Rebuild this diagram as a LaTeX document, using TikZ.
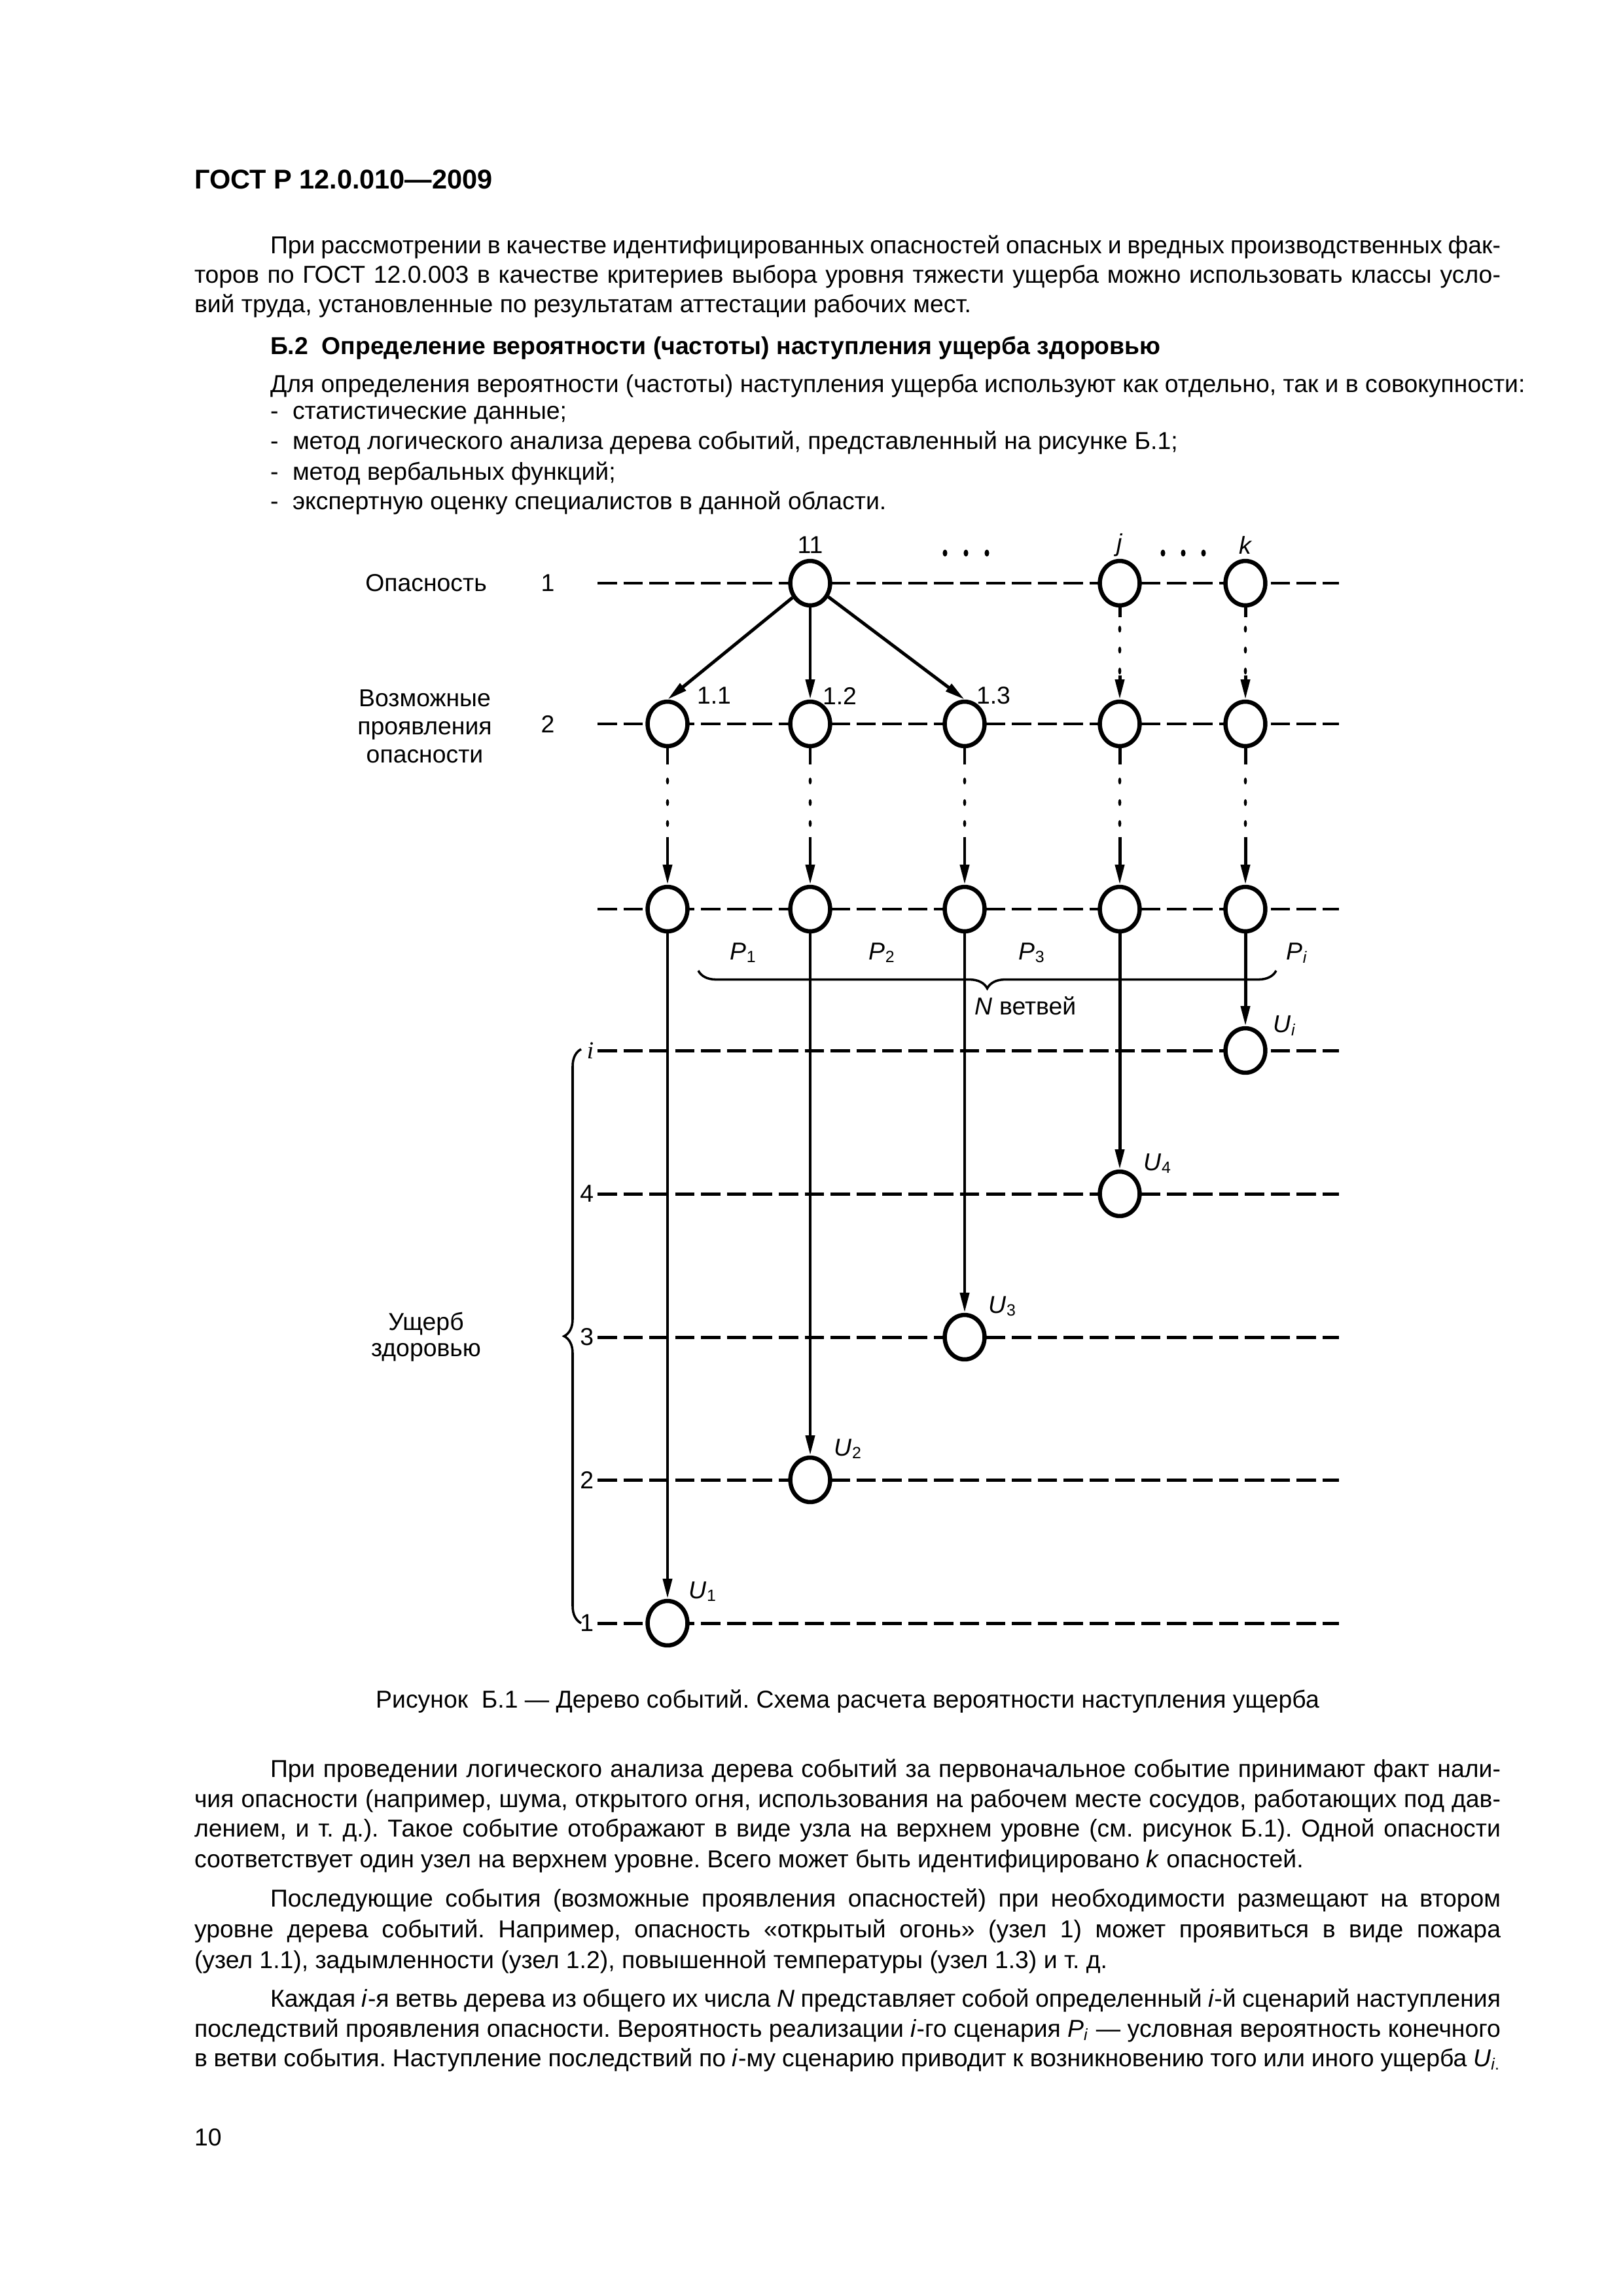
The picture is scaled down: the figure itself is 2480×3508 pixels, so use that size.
\documentclass[tikz,border=0pt]{standalone}
\usepackage{fontspec}
\setmainfont{Liberation Sans}
\newfontfamily\serifit{Liberation Serif}
\usetikzlibrary{arrows.meta,decorations.pathreplacing,calc,backgrounds,shapes.geometric}
\newdimen\pxu \pxu=0.0846667mm
\newcommand\bodyf{\fontsize{9}{11}\selectfont\frenchspacing}
\newcommand\diagf{\fontsize{9}{11}\selectfont}
\newcommand\jl[2]{\makebox[#1\pxu][s]{#2}}
\tikzset{
 txt/.style={inner sep=0pt, outer sep=0pt, anchor=base west, font=\bodyf},
 lab/.style={inner sep=0pt, font=\diagf},
 ev/.style={ellipse, draw, fill=white, line width=0.55mm, minimum width=5.15mm, minimum height=5.75mm, inner sep=0pt},
 lvl/.style={line width=0.42mm, dash pattern=on 2.5mm off 0.85mm},
 conn/.style={line width=0.42mm},
 arr/.style={line width=0.42mm, -{Triangle[length=2.6mm,width=1.15mm]}},
 brc/.style={line width=0.3mm, decorate},
}
\begin{document}
\begin{tikzpicture}[x=0.0846667mm,y=-0.0846667mm]
\useasboundingbox (0,0) rectangle (2480,3508);

% ---------- text above ----------
\node[txt,font=\fontsize{10}{12}\selectfont\bfseries] (hdr) at (297,288) {ГОСТ Р 12.0.010—2009};
\node[txt] (a1) at (413,387) {\jl{1880}{При рассмотрении в качестве идентифицированных опасностей опасных и вредных производственных фак-}};
\node[txt] (a2) at (297,432) {\jl{1996}{торов по ГОСТ 12.0.003 в качестве критериев выбора уровня тяжести ущерба можно использовать классы усло-}};
\node[txt] (a3) at (297,477) {вий труда, установленные по результатам аттестации рабочих мест.};
\node[txt,font=\bodyf\bfseries] (sec) at (413,541) {Б.2\ \ Определение вероятности (частоты) наступления ущерба здоровью};
\node[txt] (b0) at (413,599) {Для определения вероятности (частоты) наступления ущерба используют как отдельно, так и в совокупности:};
\node[txt] (b1d) at (413,640) {-};
\node[txt] (b1) at (447,640) {статистические данные;};
\node[txt] (b2d) at (413,686) {-};
\node[txt] (b2) at (447,686) {метод логического анализа дерева событий, представленный на рисунке Б.1;};
\node[txt] (b3d) at (413,733) {-};
\node[txt] (b3) at (447,733) {метод вербальных функций;};
\node[txt] (b4d) at (413,778) {-};
\node[txt] (b4) at (447,778) {экспертную оценку специалистов в данной области.};

% ---------- diagram: level lines ----------
\foreach \k/\y in {1/891,2/1106,3/1389,4/1605,5/1824,6/2043,7/2261,8/2480}{
  \coordinate (ls\k) at (913,\y);
  \coordinate (le\k) at (2046,\y);
}
% ---------- event nodes ----------
\node[ev] (h1) at (1238,891) {};
\node[ev] (hj) at (1711,891) {};
\node[ev] (hk) at (1903,891) {};
\foreach \i/\x in {1/1020,2/1238,3/1474,4/1711,5/1903}{
  \node[ev] (m\i) at (\x,1106) {};
  \node[ev] (r\i) at (\x,1389) {};
}
\node[ev] (ui) at (1903,1605) {};
\node[ev] (u4) at (1711,1824) {};
\node[ev] (u3) at (1474,2043) {};
\node[ev] (u2) at (1238,2261) {};
\node[ev] (u1) at (1020,2480) {};

\begin{scope}[on background layer]
\foreach \k in {1,...,8}{ \draw[lvl] (ls\k) -- (le\k); }
\end{scope}

% ---------- connectors ----------
\draw[arr] (h1) -- (m1.north);
\draw[arr] (h1) -- (m2.north);
\draw[arr] (h1) -- (m3.north);
\foreach \a/\b in {hj/m4,hk/m5}{
  \draw[conn] (\a.south) -- ++(0,15);
  \foreach \d in {33,65,97}{ \fill ($(\a.south)+(0,\d)$) ellipse [x radius=0.2mm, y radius=0.45mm]; }
  \draw[arr] ($(\b.north)+(0,-37)$) -- (\b.north);
}
\foreach \i in {1,...,5}{
  \draw[conn] (m\i.south) -- ++(0,25);
  \foreach \d in {50,83,115}{ \fill ($(m\i.south)+(0,\d)$) ellipse [x radius=0.2mm, y radius=0.45mm]; }
  \draw[arr] ($(r\i.north)+(0,-73)$) -- (r\i.north);
}
\draw[arr] (r1) -- (u1);
\draw[arr] (r2) -- (u2);
\draw[arr] (r3) -- (u3);
\draw[arr] (r4) -- (u4);
\draw[arr] (r5) -- (ui);

% ---------- top labels ----------
\node[lab] (t11) at (1238,833) {11};
\foreach \x in {1444,1476,1508,1777,1808,1839}{ \fill (\x,845) ellipse [x radius=0.3mm, y radius=0.45mm]; }
\node[lab,font=\diagf\itshape] (tj) at (1711,833) {j};
\node[lab,font=\diagf\itshape] (tk) at (1903,833) {k};
\node[lab] (l11) at (1091,1063) {1.1};
\node[lab] (l12) at (1283,1063) {1.2};
\node[lab] (l13) at (1518,1063) {1.3};

% ---------- P labels and brace ----------
\node[lab,anchor=base west] (p1) at (1115,1466) {\textit{P}\textsubscript{1}};
\node[lab,anchor=base west] (p2) at (1327,1466) {\textit{P}\textsubscript{2}};
\node[lab,anchor=base west] (p3) at (1556,1466) {\textit{P}\textsubscript{3}};
\node[lab,anchor=base west] (pi) at (1965,1466) {\textit{P}\textsubscript{\textit{i}}};
\coordinate (bra) at (1950,1483);
\coordinate (brb) at (1067,1483);
\draw[brc, decoration={brace, amplitude=2.3mm}] (bra) -- (brb);
\node[lab] (nb) at (1567,1537) {\textit{N} ветвей};

% ---------- U labels ----------
\node[lab,anchor=base west] (lui) at (1945,1577) {\textit{U}\textsubscript{\textit{i}}};
\node[lab,anchor=base west] (lu4) at (1747,1788) {\textit{U}\textsubscript{4}};
\node[lab,anchor=base west] (lu3) at (1510,2006) {\textit{U}\textsubscript{3}};
\node[lab,anchor=base west] (lu2) at (1274,2224) {\textit{U}\textsubscript{2}};
\node[lab,anchor=base west] (lu1) at (1052,2442) {\textit{U}\textsubscript{1}};

% ---------- level labels ----------
\node[lab,anchor=east] (di) at (908,1605) {\serifit\itshape i};
\node[lab,anchor=east] (d4) at (908,1824) {4};
\node[lab,anchor=east] (d3) at (908,2043) {3};
\node[lab,anchor=east] (d2) at (908,2261) {2};
\node[lab,anchor=east] (d1) at (908,2480) {1};
\coordinate (bva) at (888,2480);
\coordinate (bvb) at (888,1603);
\draw[brc, decoration={brace, amplitude=2.2mm}] (bva) -- (bvb);

\node[lab] (ttl1) at (651,891) {Опасность};
\node[lab] (tn1) at (837,891) {1};
\node[lab,align=center,font=\fontsize{9}{10.3}\selectfont] (ttl2) at (649,1110) {Возможные\\проявления\\опасности};
\node[lab] (tn2) at (837,1106) {2};
\node[lab,align=center,font=\fontsize{9}{9.6}\selectfont] (ttl3) at (651,2043) {Ущерб\\здоровью};

% ---------- caption and text below ----------
\node[lab,anchor=base,font=\bodyf] (cap) at (1295,2609) {Рисунок\ \ Б.1 — Дерево событий. Схема расчета вероятности наступления ущерба};

\node[txt] (c1) at (413,2715) {\jl{1880}{При проведении логического анализа дерева событий за первоначальное событие принимают факт нали-}};
\node[txt] (c2) at (297,2761) {\jl{1996}{чия опасности (например, шума, открытого огня, использования на рабочем месте сосудов, работающих под дав-}};
\node[txt] (c3) at (297,2806) {\jl{1996}{лением, и т. д.). Такое событие отображают в виде узла на верхнем уровне (см. рисунок Б.1). Одной опасности}};
\node[txt] (c4) at (297,2853) {соответствует один узел на верхнем уровне. Всего может быть идентифицировано \textit{k} опасностей.};

\node[txt] (e1) at (413,2913) {\jl{1880}{Последующие события (возможные проявления опасностей) при необходимости размещают на втором}};
\node[txt] (e2) at (297,2960) {\jl{1996}{уровне дерева событий. Например, опасность «открытый огонь» (узел 1) может проявиться в виде пожара}};
\node[txt] (e3) at (297,3007) {(узел 1.1), задымленности (узел 1.2), повышенной температуры (узел 1.3) и т. д.};

\node[txt] (f1) at (413,3066) {\jl{1880}{Каждая \textit{i}-я ветвь дерева из общего их числа \textit{N} представляет собой определенный \textit{i}-й сценарий наступления}};
\node[txt] (f2) at (297,3112) {\jl{1996}{последствий проявления опасности. Вероятность реализации \textit{i}-го сценария \textit{P}\textsubscript{\textit{i}} — условная вероятность конечного}};
\node[txt] (f3) at (297,3157) {\jl{1996}{в ветви события. Наступление последствий по \textit{i}-му сценарию приводит к возникновению того или иного ущерба \textit{U}\textsubscript{\textit{i}.}}};

\node[txt] (pg) at (297,3278) {10};
\end{tikzpicture}
\end{document}
